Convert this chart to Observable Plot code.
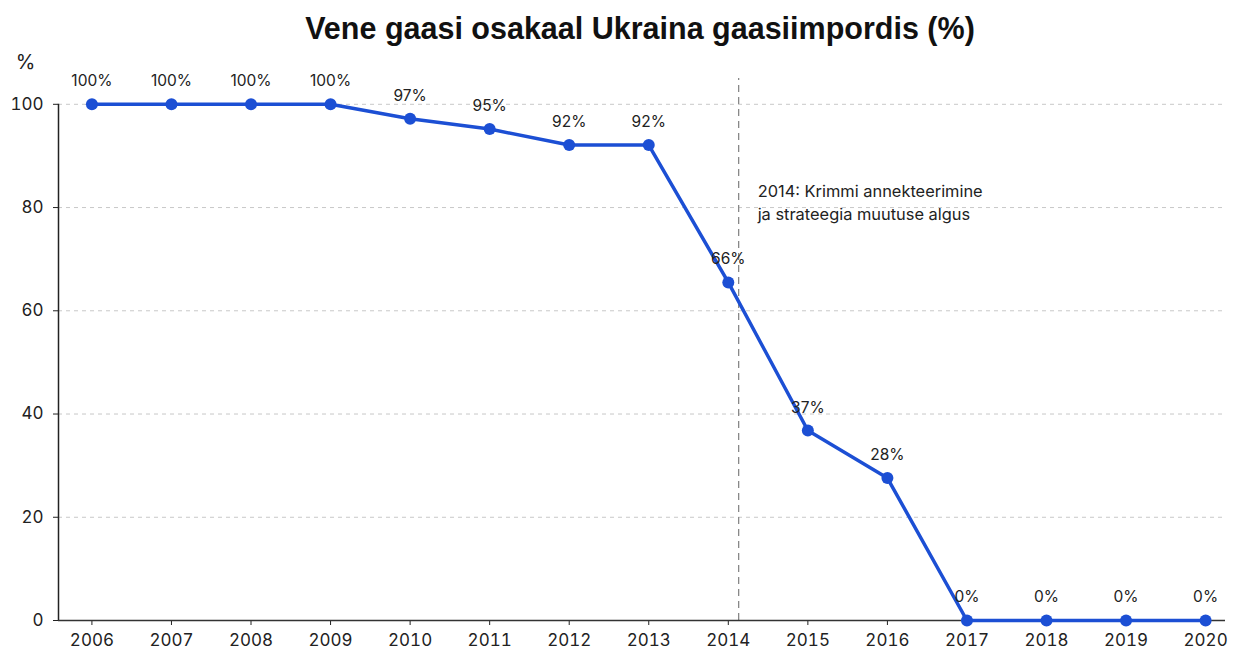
<!DOCTYPE html>
<html>
<head>
<meta charset="utf-8">
<script src="https://cdn.jsdelivr.net/npm/d3@7"></script>
<script src="https://cdn.jsdelivr.net/npm/@observablehq/plot@0.6"></script>
<style>
  html, body { margin: 0; padding: 0; background: #fff; }
  #title {
    height: 50px; line-height: 56px; text-align: center;
    font-family: "Liberation Sans", Arial, sans-serif; font-weight: bold;
    font-size: 30.5px; color: #111; width: 1233px; padding-left: 47px; box-sizing: border-box;
  }
  #chart svg { display: block; }
</style>
</head>
<body>
<div id="title">Vene gaasi osakaal Ukraina gaasiimpordis (%)</div>
<div id="chart"></div>
<script>
const years = [2006, 2007, 2008, 2009, 2010, 2011, 2012, 2013, 2014, 2015, 2016, 2017, 2018, 2019, 2020];
const shares = [100, 100, 100, 100, 97.2, 95.2, 92.1, 92.1, 65.5, 36.8, 27.6, 0, 0, 0, 0];
const yTicks = [0, 20, 40, 60, 80, 100];
const eventYear = 2014.13;
const eventText = "2014: Krimmi annekteerimine\nja strateegia muutuse algus";
const yUnit = "%";

const data = years.map((year, i) => ({year, value: shares[i]}));
const xMin = 2005.58, xMax = 2020.25;
const blue = "#1c4fd4";

const chart = Plot.plot({
  width: 1233,
  height: 603,
  marginLeft: 58,
  marginRight: 8,
  marginTop: 28,
  marginBottom: 33,
  style: {fontFamily: "Inter, 'Liberation Sans', sans-serif", color: "#222", background: "#fff"},
  x: {domain: [xMin, xMax]},
  y: {domain: [0, 105]},
  marks: [
    Plot.ruleY(yTicks.filter(d => d > 0), {stroke: "#c8c8c8", strokeDasharray: "4,4", strokeWidth: 1}),
    Plot.ruleX([eventYear], {y1: 0, y2: 105, stroke: "#888", strokeDasharray: "7,5", strokeWidth: 1.3}),
    Plot.axisX(years, {tickFormat: d => String(d), tickSize: 5, tickPadding: 8, fontSize: 17, label: null, stroke: "#222"}),
    Plot.axisY(yTicks, {tickSize: 5, tickPadding: 10, fontSize: 17, label: null, stroke: "#222"}),
    Plot.ruleX([xMin], {y1: 0, y2: 100, stroke: "#222", strokeWidth: 1.5}),
    Plot.ruleY([0], {stroke: "#333", strokeWidth: 1.5}),
    Plot.line(data, {x: "year", y: "value", stroke: blue, strokeWidth: 3.5}),
    Plot.dot(data, {x: "year", y: "value", r: 6, fill: blue}),
    Plot.text(data, {x: "year", y: "value", text: d => Math.round(d.value) + "%", dy: -23, fontSize: 15.5, fill: "#222"}),
    Plot.text([eventText], {x: eventYear, y: 81.3, dx: 19, textAnchor: "start", lineAnchor: "middle", lineHeight: 1.45, fontSize: 16.4, fill: "#222"}),
    Plot.text([yUnit], {frameAnchor: "top-left", dx: -33, dy: -16, textAnchor: "middle", lineAnchor: "middle", fontSize: 20, fill: "#222"})
  ]
});
document.getElementById("chart").appendChild(chart);
</script>
</body>
</html>
